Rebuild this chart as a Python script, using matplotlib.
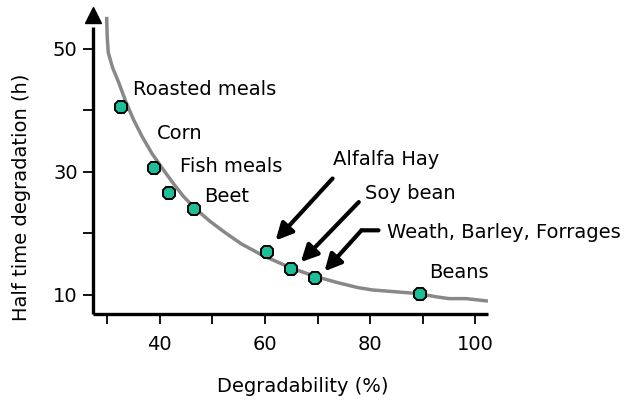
import matplotlib
matplotlib.use("Agg")
import matplotlib.pyplot as plt
from matplotlib.transforms import offset_copy

# ---- data ----
foods = ["Roasted meals", "Corn", "Fish meals", "Beet", "Alfalfa Hay",
         "Soy bean", "Weath, Barley, Forrages", "Beans"]
degradability = [32.7, 38.9, 41.7, 46.5, 60.3, 64.9, 69.6, 89.4]
half_time = [40.5, 30.7, 26.6, 23.9, 16.9, 14.2, 12.7, 10.2]

curve_x = [29.9, 30.0, 30.2, 31.0, 32.2, 33.5, 35.0, 36.6, 38.5, 40.3, 42.5,
           44.5, 46.8, 49.5, 52.3, 55.5, 59.6, 64.9, 69.6, 73.8, 77.6, 80.5,
           85.0, 89.4, 92.5, 95.0, 98.2, 102.4]
curve_y = [55.2, 52.0, 49.4, 47.0, 44.5, 41.5, 38.5, 35.8, 33.0, 30.8, 28.2,
           26.0, 24.0, 22.0, 20.2, 18.3, 16.4, 14.4, 13.0, 12.0, 11.2, 10.8,
           10.5, 10.2, 9.7, 9.4, 9.4, 9.0]

x_ticks = [30, 40, 50, 60, 70, 80, 90, 100]
x_ticklabels = ["", "40", "", "60", "", "80", "", "100"]
y_ticks = [10, 20, 30, 40, 50]
y_ticklabels = ["10", "", "30", "", "50"]

# label positions (text left edge, vertical centre) in data units
label_x = [34.9, 39.4, 43.8, 48.4, 72.9, 79.0, 83.2, 91.3]
label_y = [43.4, 36.3, 30.9, 26.0, 32.0, 26.5, 20.2, 13.7]

# ---- figure ----
fig = plt.figure(figsize=(6.28, 4.01), dpi=100)
W, H = 628, 401
ax_l, ax_r, ax_b, ax_t = 93, 488, 314, 15
ax = fig.add_axes([ax_l / W, 1 - ax_b / H, (ax_r - ax_l) / W, (ax_b - ax_t) / H])
ax.set_xlim(27.3, 102.4)
ax.set_ylim(6.9, 55.5)

for s in ["top", "right"]:
    ax.spines[s].set_visible(False)
for s in ["left", "bottom"]:
    ax.spines[s].set_linewidth(2.4)
    ax.spines[s].set_capstyle("butt")
ax.spines["left"].set_bounds(6.9, 53.5)

ax.set_xticks(x_ticks)
ax.set_xticklabels(x_ticklabels)
ax.set_yticks(y_ticks)
ax.set_yticklabels(y_ticklabels)
ax.tick_params(axis="both", direction="out", length=7, width=1.3,
               labelsize=14, pad=4, color="black")
ax.tick_params(axis="x", pad=8)

# y-axis arrow head
ax.plot([0], [1], marker="^", markersize=11, color="black",
        transform=ax.transAxes, clip_on=False, zorder=5)

# fitted curve
ax.plot(curve_x, curve_y, color="#888888", lw=2.5, solid_capstyle="butt",
        solid_joinstyle="round", zorder=2)

# points
ax.plot(degradability, half_time, linestyle="none", marker="8", markersize=10,
        markerfacecolor="#1cbf98", markeredgecolor="black", markeredgewidth=1.4,
        zorder=4)

# labels
for name, lx, ly in zip(foods, label_x, label_y):
    ax.text(lx, ly, name, fontsize=14, ha="left", va="center", color="black")

# arrows (tip offset from point, and start offset from tip, in pixels)
arrow_specs = {
    "Alfalfa Hay": ((9, 12), (57, 62)),
    "Soy bean": ((10, 7), (58, 60)),
    "Weath, Barley, Forrages": ((9, 7), (37, 41)),
}
for name, (tip_off, start_off) in arrow_specs.items():
    i = foods.index(name)
    tr = offset_copy(ax.transData, fig=fig, x=tip_off[0], y=tip_off[1], units="dots")
    ax.annotate("", xy=(degradability[i], half_time[i]), xycoords=tr,
                xytext=start_off, textcoords="offset pixels",
                arrowprops=dict(arrowstyle="-|>,head_length=1.0,head_width=0.5",
                                lw=3.0, color="black", shrinkA=0, shrinkB=0),
                zorder=6)
    if name.startswith("Weath"):
        tr2 = offset_copy(ax.transData, fig=fig, x=tip_off[0] + start_off[0],
                          y=tip_off[1] + start_off[1], units="dots")
        ax.annotate("", xy=(degradability[i], half_time[i]), xycoords=tr2,
                    xytext=(17, 0), textcoords="offset pixels",
                    arrowprops=dict(arrowstyle="-", lw=3.0, color="black",
                                    shrinkA=0, shrinkB=0))

ax.set_xlabel("Degradability (%)", fontsize=14)
ax.xaxis.set_label_coords((303 - ax_l) / (ax_r - ax_l), (ax_b - 386) / (ax_b - ax_t))
ax.xaxis.label.set_va("center")
ax.set_ylabel("Half time degradation (h)", fontsize=14)
ax.yaxis.set_label_coords((22 - ax_l) / (ax_r - ax_l), (ax_b - 197) / (ax_b - ax_t))
ax.yaxis.label.set_va("center")

fig.savefig("out.png", dpi=100)
